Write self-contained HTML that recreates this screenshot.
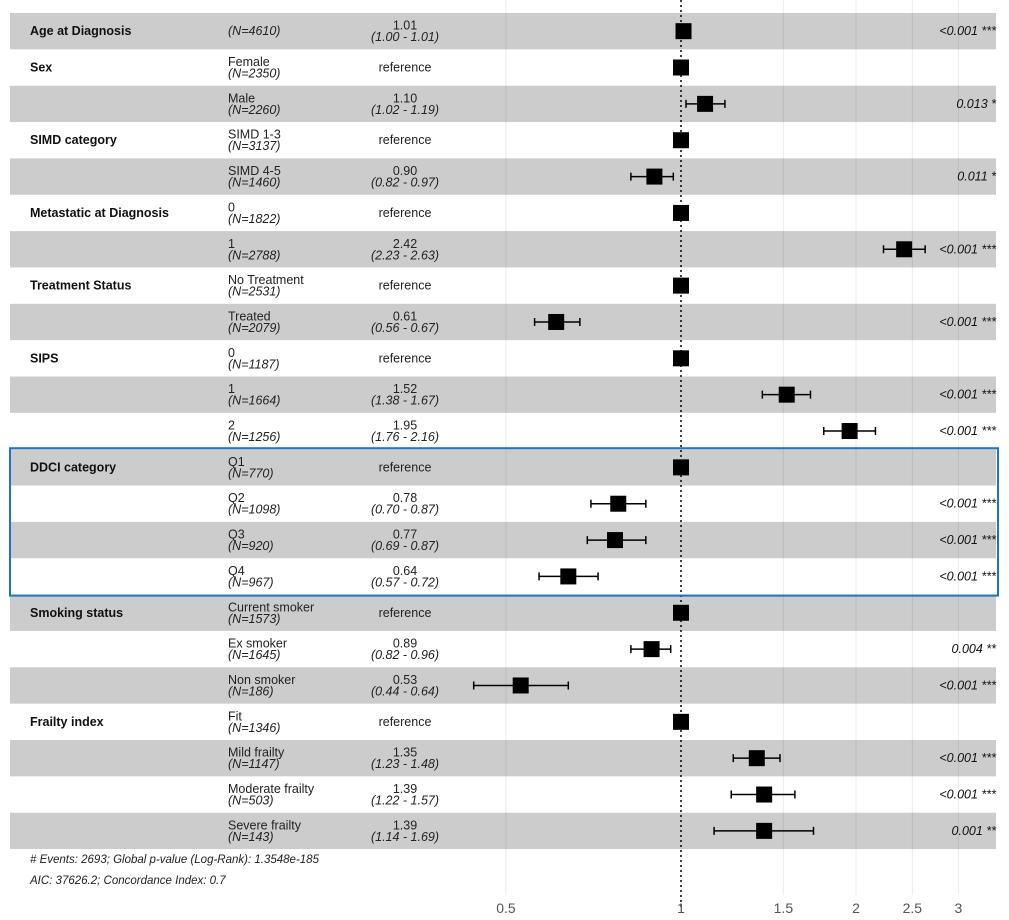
<!DOCTYPE html>
<html><head><meta charset="utf-8"><style>
body{margin:0;background:#fff;}
svg{display:block;font-family:"Liberation Sans",sans-serif;}
</style></head><body>
<svg id="chart" width="1009" height="920" xmlns="http://www.w3.org/2000/svg"></svg>
<script>
const variables = ["Age at Diagnosis","Sex","","SIMD category","","Metastatic at Diagnosis","","Treatment Status","","SIPS","","","DDCI category","","","","Smoking status","","","Frailty index","","",""];
const levels = ["","Female","Male","SIMD 1-3","SIMD 4-5","0","1","No Treatment","Treated","0","1","2","Q1","Q2","Q3","Q4","Current smoker","Ex smoker","Non smoker","Fit","Mild frailty","Moderate frailty","Severe frailty"];
const counts = [4610,2350,2260,3137,1460,1822,2788,2531,2079,1187,1664,1256,770,1098,920,967,1573,1645,186,1346,1147,503,143];
const hr = [1.01,1,1.10,1,0.90,1,2.42,1,0.61,1,1.52,1.95,1,0.78,0.77,0.64,1,0.89,0.53,1,1.35,1.39,1.39];
const lo = [1.00,null,1.02,null,0.82,null,2.23,null,0.56,null,1.38,1.76,null,0.70,0.69,0.57,null,0.82,0.44,null,1.23,1.22,1.14];
const hi = [1.01,null,1.19,null,0.97,null,2.63,null,0.67,null,1.67,2.16,null,0.87,0.87,0.72,null,0.96,0.64,null,1.48,1.57,1.69];
const pvals = ["<0.001 ***","","0.013 *","","0.011 *","","<0.001 ***","","<0.001 ***","","<0.001 ***","<0.001 ***","","<0.001 ***","<0.001 ***","<0.001 ***","","0.004 **","<0.001 ***","","<0.001 ***","<0.001 ***","0.001 **"];
const ticks = [0.5,1,1.5,2,2.5,3];
const tickLabels = ["0.5","1","1.5","2","2.5","3"];

const svg=document.getElementById('chart');
const NS='http://www.w3.org/2000/svg';
const X0=681, PX=252.5, TOP=13, RH=36.35;
const x=v=>X0+Math.log(v)*PX;
const yc=i=>TOP+RH*(i+0.5);
function el(t,a,txt){const e=document.createElementNS(NS,t);for(const k in a)e.setAttribute(k,a[k]);if(txt!==undefined)e.textContent=txt;svg.appendChild(e);return e;}
hr.forEach((v,i)=>{ if(i%2===0){
 const r=el('rect',{x:10,y:TOP+RH*i,width:986,height:RH,fill:'#cccccc'});
 
 
}});
ticks.forEach((t,i)=>{ if(t!==1){
 const l=el('line',{x1:x(t),x2:x(t),y1:0,y2:895,stroke:'rgba(0,0,0,0.08)','stroke-width':1});
 
 
}});
const ref=el('line',{x1:X0,x2:X0,y1:0,y2:910,stroke:'#000','stroke-width':1.5,'stroke-dasharray':'2,3'});


ticks.forEach((t,i)=>{
 const tx=el('text',{x:x(t),y:913,'text-anchor':'middle','font-size':14,fill:'#555'},tickLabels[i]);
 
 
});
hr.forEach((v,i)=>{
 const y=yc(i);
 if(variables[i]){const t=el('text',{x:30,y:y+4,'font-size':12.5,'font-weight':'bold',fill:'#111'},variables[i]);
  
  }
 if(levels[i]){const t=el('text',{x:228,y:y-1.5,'font-size':12.5,fill:'#222'},levels[i]);
  
  }
 const n=el('text',{x:228,y:levels[i]?y+10:y+4,'font-size':12.5,'font-style':'italic',fill:'#222'},'(N='+counts[i]+')');
 
 
 if(lo[i]===null){
  const t=el('text',{x:405,y:y+4,'font-size':12.5,'text-anchor':'middle',fill:'#222'},'reference');
  
  
 } else {
  const t=el('text',{x:405,y:y-1.5,'font-size':12.5,'text-anchor':'middle',fill:'#222'},v.toFixed(2));
  
  
  const c=el('text',{x:405,y:y+10,'font-size':12.5,'font-style':'italic','text-anchor':'middle',fill:'#222'},'('+lo[i].toFixed(2)+' - '+hi[i].toFixed(2)+')');
  
  
  const e=el('path',{d:`M${x(lo[i])},${y}H${x(hi[i])}M${x(lo[i])},${y-4}V${y+4}M${x(hi[i])},${y-4}V${y+4}`,stroke:'#000','stroke-width':1.5,fill:'none'});
  
  
 }
 const b=el('rect',{x:x(v)-8,y:y-8,width:16,height:16,fill:'#000'});
 
 
 if(pvals[i]){const p=el('text',{x:996,y:y+4,'font-size':12.5,'font-style':'italic','text-anchor':'end',fill:'#111'},pvals[i]);
  
  }
});
const box=el('rect',{x:10,y:TOP+RH*12-1,width:988,height:RH*4+2,fill:'none',stroke:'#1874cd','stroke-width':2});


const f1=el('text',{x:30,y:863,'font-size':11.5,'font-style':'italic',fill:'#222'},'# Events: 2693; Global p-value (Log-Rank): 1.3548e-185');


const f2=el('text',{x:30,y:884,'font-size':11.5,'font-style':'italic',fill:'#222'},'AIC: 37626.2; Concordance Index: 0.7');


</script>
</body></html>
